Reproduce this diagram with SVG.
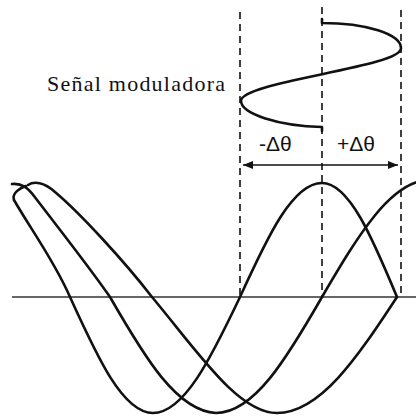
<svg xmlns="http://www.w3.org/2000/svg" width="416" height="417" viewBox="0 0 416 417">
<style>
.wave{fill:none;stroke:#111;stroke-width:2.6;stroke-linejoin:round;stroke-linecap:round}
.dash{fill:none;stroke:#111;stroke-width:1.6;stroke-dasharray:7 5}
.axis{fill:none;stroke:#333;stroke-width:1.3}
.lbl{font-family:"Liberation Sans",Arial,sans-serif;font-size:21px;fill:#111}
.title{font-family:"Liberation Serif","Times New Roman",serif;font-size:22px;fill:#111}
</style>
<defs>
<marker id="ah" viewBox="0 0 10 8" refX="10" refY="4" markerWidth="10" markerHeight="8" markerUnits="userSpaceOnUse" orient="auto-start-reverse">
<path d="M0,0 L10,4 L0,8 Z" fill="#111"/>
</marker>
</defs>
<rect width="416" height="417" fill="#fff"/>
<g id="axis"><line class="axis" x1="12" y1="297" x2="416" y2="297"/></g>
<g id="guides">
<line class="dash" x1="240" y1="12" x2="240" y2="297"/>
<line class="dash" x1="322" y1="7" x2="322" y2="297"/>
<line class="dash" x1="401" y1="10" x2="401" y2="297"/>
</g>
<g id="modulating-signal">
<path class="wave" d="M322,19 L322,23 C366,23 401,34 401,48.25 C401,57.7 363,65.7 321,74.5 C279,83.3 241,91.3 241,100.75 C241,114 279,126 322,127 L322,131"/>
<text class="title" x="47" y="91" textLength="178" lengthAdjust="spacing">Señal moduladora</text>
</g>
<g id="phase-arrow">
<line x1="243" y1="165" x2="398" y2="165" stroke="#111" stroke-width="1.6" marker-start="url(#ah)" marker-end="url(#ah)"/>
<text class="lbl" x="259" y="151">-Δθ</text>
<text class="lbl" x="337" y="151">+Δθ</text>
</g>
<g id="carriers">
<path id="c1" class="wave" d="M26,186 C18,189 12,194 14,200 C30,228 55,262 70,297 C97.7,358 123,413 153,413 C184,413 211,358 240,297 C267.4,237 292.5,183 322,183 C349,183 372,237 397,297"/>
<path id="c2" class="wave" d="M12,184 C22,183 28,188 34,196 C60,230 90,268 110,297 C145,358 177,411 216,413 C254,413 287,358 322,297 C358,235.6 391,180 430,180"/>
<path id="c3" class="wave" d="M28,185 C34,181 44,182 55,192 C80,213 125,262 152,297 C198,352 238,413 277,413 C320,413 357,358 397,297"/>
</g>
</svg>
